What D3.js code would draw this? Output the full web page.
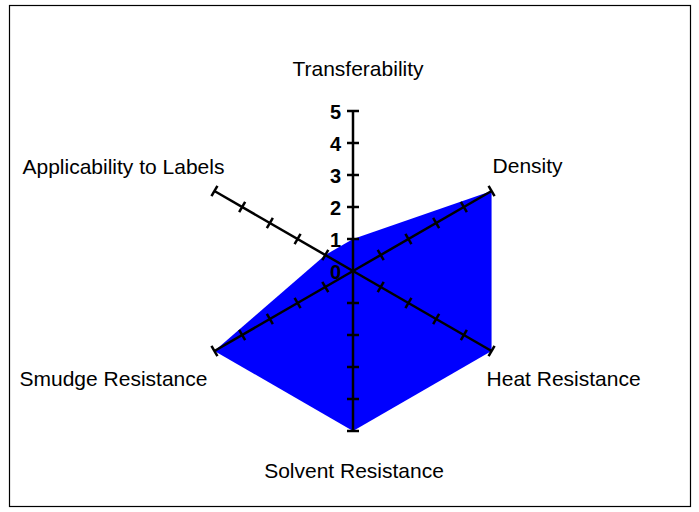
<!DOCTYPE html>
<html>
<head>
<meta charset="utf-8">
<script src="https://cdn.jsdelivr.net/npm/d3@7"></script>
<style>
  html, body { margin: 0; padding: 0; background: #fff; }
  svg { display: block; font-family: Arial, "Liberation Sans", sans-serif; }
</style>
</head>
<body>
<svg id="chart" width="699" height="512"></svg>
<script>
// categories, clockwise from the top
const categories = ["Transferability", "Density", "Heat Resistance", "Solvent Resistance", "Smudge Resistance", "Applicability to Labels"];
const values = [1, 5, 5, 5, 5, 1];
const tickValues = [0, 1, 2, 3, 4, 5];

const svg = d3.select("#chart");
const cx = 353, cy = 271;

// outer frame
svg.append("rect")
    .attr("x", 9.5).attr("y", 5.5)
    .attr("width", 681).attr("height", 501)
    .attr("fill", "none")
    .attr("stroke", "#000")
    .attr("stroke-width", 1.2);

const r = d3.scaleLinear().domain([0, 5]).range([0, 160]);
const angle = d3.scalePoint().domain(categories).range([0, 2 * Math.PI * 5 / 6]);

const g = svg.append("g").attr("transform", `translate(${cx},${cy})`);

// filled area
const radial = d3.lineRadial()
    .angle((d, i) => angle(categories[i]))
    .radius(d => r(d))
    .curve(d3.curveLinearClosed);

g.append("path")
    .datum(values)
    .attr("d", radial)
    .attr("fill", "#0000ff")
    .attr("stroke", "none");

// axes with perpendicular ticks
const pt = (a, v) => [Math.sin(a) * r(v), -Math.cos(a) * r(v)];
const tickLen = 6;

categories.forEach(c => {
    const a = angle(c);
    const end = pt(a, 5);
    g.append("line")
        .attr("x1", 0).attr("y1", 0)
        .attr("x2", end[0]).attr("y2", end[1])
        .attr("stroke", "#000")
        .attr("stroke-width", 2.5);

    const px = Math.cos(a), py = Math.sin(a); // perpendicular direction
    g.selectAll(null)
        .data(tickValues.slice(1))
        .enter().append("line")
        .attr("x1", v => pt(a, v)[0] - px * tickLen)
        .attr("y1", v => pt(a, v)[1] - py * tickLen)
        .attr("x2", v => pt(a, v)[0] + px * tickLen)
        .attr("y2", v => pt(a, v)[1] + py * tickLen)
        .attr("stroke", "#000")
        .attr("stroke-width", 2.5);
});

// value labels on the first axis
g.selectAll(".tick-label")
    .data(tickValues)
    .enter().append("text")
    .attr("class", "tick-label")
    .attr("x", -12)
    .attr("y", v => -r(v))
    .attr("dy", 8)
    .attr("text-anchor", "end")
    .attr("font-size", 20)
    .attr("font-weight", "bold")
    .attr("fill", "#000")
    .text(v => v);

// category labels: offset from the axis end
const labelPos = {
    "Transferability": {dx: 5, dy: -35, anchor: "middle"},
    "Density": {dx: 1, dy: -18, anchor: "start"},
    "Heat Resistance": {dx: -5, dy: 35, anchor: "start"},
    "Solvent Resistance": {dx: 1, dy: 47, anchor: "middle"},
    "Smudge Resistance": {dx: -7, dy: 35, anchor: "end"},
    "Applicability to Labels": {dx: -91, dy: -17, anchor: "middle"}
};

categories.forEach(c => {
    const e = pt(angle(c), 5);
    const p = labelPos[c];
    g.append("text")
        .attr("x", e[0] + p.dx)
        .attr("y", e[1] + p.dy)
        .attr("text-anchor", p.anchor)
        .attr("font-size", 21)
        .attr("fill", "#000")
        .text(c);
});
</script>
</body>
</html>
